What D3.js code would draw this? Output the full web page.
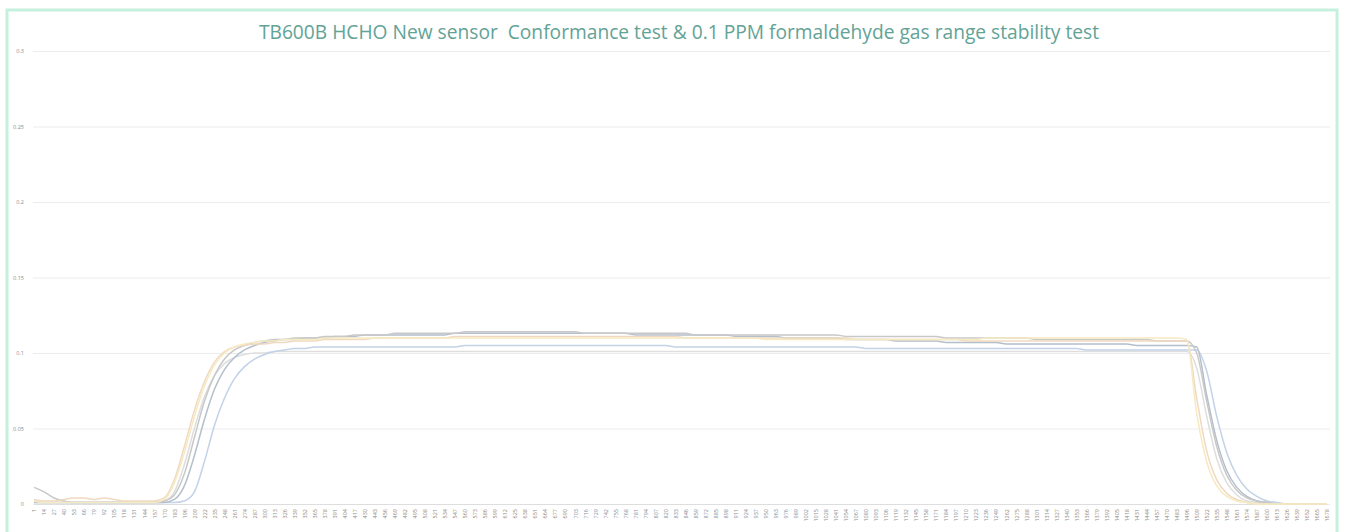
<!DOCTYPE html>
<html>
<head>
<meta charset="utf-8">
<script src="https://cdn.jsdelivr.net/npm/d3@7"></script>
<style>
	body { margin: 0; background: #fff; }
	svg { display: block; }
</style>
</head>
<body>
<div id="chart"></div>
<script>
let width = 1345;
let height = 532;
let margins = { top: 51, right: 18, bottom: 28, left: 34 };

// sample numbers shown on the x axis
var sampleLabels = [1,14,27,40,53,66,79,92,105,118,131,144,157,170,183,196,209,222,235,248,261,274,287,300,313,326,339,352,365,378,391,404,417,430,443,456,469,482,495,508,521,534,547,560,573,586,599,612,625,638,651,664,677,690,703,716,729,742,755,768,781,794,807,820,833,846,859,872,885,898,911,924,937,950,963,976,989,1002,1015,1028,1041,1054,1067,1080,1093,1106,1119,1132,1145,1158,1171,1184,1197,1210,1223,1236,1249,1262,1275,1288,1301,1314,1327,1340,1353,1366,1379,1392,1405,1418,1431,1444,1457,1470,1483,1496,1509,1522,1535,1548,1561,1574,1587,1600,1613,1626,1639,1652,1665,1678];

var yTicks = [0, 0.05, 0.1, 0.15, 0.2, 0.25, 0.3];

// sensor readings (ppm), one value per labelled sample
var sensor1 = [
	0.002,0.001,0.001,0.001,0.001,0.001,0.001,0.001,0.001,0.001,
	0.001,0.001,0.001,0.003,0.014,0.034,0.058,0.078,0.092,0.100,
	0.104,0.106,0.107,0.108,0.108,0.109,0.109,0.109,0.109,0.110,
	0.110,0.110,0.110,0.110,0.110,0.110,0.110,0.110,0.110,0.110,
	0.110,0.110,0.110,0.110,0.110,0.110,0.110,0.110,0.110,0.110,
	0.110,0.110,0.110,0.110,0.110,0.110,0.110,0.110,0.110,0.110,
	0.110,0.110,0.110,0.110,0.110,0.110,0.110,0.110,0.110,0.110,
	0.110,0.110,0.110,0.109,0.109,0.109,0.109,0.109,0.109,0.109,
	0.109,0.109,0.109,0.109,0.109,0.109,0.109,0.109,0.109,0.109,
	0.109,0.109,0.109,0.109,0.109,0.110,0.110,0.110,0.110,0.110,
	0.110,0.110,0.110,0.110,0.110,0.110,0.110,0.110,0.110,0.110,
	0.110,0.110,0.110,0.110,0.110,0.109,0.060,0.028,0.012,0.005,
	0.002,0.001,0,0,0,0,0,0,0,0
];
var sensor2 = [
	0.003,0.002,0.002,0.003,0.004,0.004,0.003,0.004,0.003,0.002,
	0.002,0.002,0.002,0.004,0.016,0.038,0.062,0.081,0.094,0.101,
	0.104,0.105,0.106,0.106,0.107,0.107,0.108,0.108,0.108,0.109,
	0.109,0.109,0.109,0.109,0.110,0.110,0.110,0.110,0.110,0.110,
	0.110,0.110,0.111,0.111,0.111,0.111,0.111,0.111,0.111,0.111,
	0.111,0.111,0.111,0.111,0.111,0.111,0.111,0.111,0.111,0.111,
	0.111,0.111,0.111,0.111,0.111,0.110,0.110,0.110,0.110,0.110,
	0.110,0.110,0.110,0.110,0.110,0.110,0.110,0.110,0.110,0.110,
	0.110,0.110,0.109,0.109,0.109,0.109,0.109,0.109,0.109,0.109,
	0.109,0.109,0.109,0.108,0.108,0.108,0.108,0.108,0.108,0.108,
	0.108,0.108,0.108,0.108,0.108,0.108,0.108,0.108,0.108,0.108,
	0.108,0.108,0.108,0.108,0.108,0.108,0.070,0.035,0.016,0.007,
	0.003,0.001,0,0,0,0,0,0,0,0
];
var sensor3 = [
	0.011,0.008,0.004,0.002,0.001,0.001,0.001,0.001,0.001,0.001,
	0.001,0.001,0.001,0.002,0.006,0.020,0.044,0.068,0.085,0.096,
	0.102,0.105,0.107,0.108,0.109,0.109,0.110,0.110,0.110,0.111,
	0.111,0.111,0.112,0.112,0.112,0.112,0.113,0.113,0.113,0.113,
	0.113,0.113,0.113,0.114,0.114,0.114,0.114,0.114,0.114,0.114,
	0.114,0.114,0.114,0.114,0.114,0.113,0.113,0.113,0.113,0.113,
	0.113,0.113,0.113,0.113,0.113,0.113,0.112,0.112,0.112,0.112,
	0.112,0.112,0.112,0.112,0.112,0.112,0.112,0.112,0.112,0.112,
	0.112,0.111,0.111,0.111,0.111,0.111,0.111,0.111,0.111,0.111,
	0.111,0.110,0.110,0.110,0.110,0.110,0.110,0.110,0.110,0.110,
	0.109,0.109,0.109,0.109,0.109,0.109,0.109,0.109,0.109,0.109,
	0.109,0.109,0.108,0.108,0.108,0.108,0.100,0.068,0.038,0.019,
	0.009,0.004,0.002,0.001,0,0,0,0,0,0
];
var sensor4 = [
	0.002,0.001,0.001,0.001,0.001,0.001,0.001,0.001,0.001,0.001,
	0.001,0.001,0.001,0.001,0.001,0.002,0.008,0.028,0.052,0.070,
	0.083,0.091,0.096,0.099,0.101,0.102,0.103,0.103,0.104,0.104,
	0.104,0.104,0.104,0.104,0.104,0.104,0.104,0.104,0.104,0.104,
	0.104,0.104,0.104,0.105,0.105,0.105,0.105,0.105,0.105,0.105,
	0.105,0.105,0.105,0.105,0.105,0.105,0.105,0.105,0.105,0.105,
	0.105,0.105,0.105,0.105,0.104,0.104,0.104,0.104,0.104,0.104,
	0.104,0.104,0.104,0.104,0.104,0.104,0.104,0.104,0.104,0.104,
	0.104,0.104,0.104,0.103,0.103,0.103,0.103,0.103,0.103,0.103,
	0.103,0.103,0.103,0.103,0.103,0.103,0.103,0.103,0.103,0.103,
	0.103,0.103,0.103,0.103,0.103,0.102,0.102,0.102,0.102,0.102,
	0.102,0.102,0.102,0.102,0.102,0.102,0.102,0.088,0.058,0.034,
	0.019,0.010,0.005,0.002,0.001,0,0,0,0,0
];
var sensor5 = [
	0.001,0.001,0.001,0.001,0.001,0.001,0.001,0.001,0.001,0.001,
	0.001,0.001,0.001,0.001,0.003,0.012,0.032,0.056,0.076,0.089,
	0.097,0.102,0.105,0.107,0.108,0.109,0.109,0.110,0.110,0.110,
	0.111,0.111,0.111,0.112,0.112,0.112,0.112,0.112,0.112,0.112,
	0.112,0.112,0.113,0.113,0.113,0.113,0.113,0.113,0.113,0.113,
	0.113,0.113,0.113,0.113,0.113,0.113,0.113,0.113,0.113,0.113,
	0.112,0.112,0.112,0.112,0.112,0.112,0.112,0.112,0.112,0.112,
	0.111,0.111,0.111,0.111,0.111,0.110,0.110,0.110,0.110,0.110,
	0.110,0.109,0.109,0.109,0.109,0.109,0.108,0.108,0.108,0.108,
	0.108,0.107,0.107,0.107,0.107,0.107,0.107,0.106,0.106,0.106,
	0.106,0.106,0.106,0.106,0.106,0.106,0.106,0.106,0.106,0.106,
	0.105,0.105,0.105,0.105,0.105,0.105,0.104,0.072,0.042,0.022,
	0.011,0.005,0.002,0.001,0,0,0,0,0,0
];
var sensor6 = [
	0.001,0.001,0.001,0.001,0.001,0.001,0.001,0.001,0.001,0.001,
	0.001,0.001,0.001,0.002,0.008,0.026,0.050,0.071,0.085,0.093,
	0.097,0.099,0.100,0.100,0.101,0.101,0.101,0.101,0.101,0.101,
	0.101,0.101,0.101,0.101,0.101,0.101,0.101,0.101,0.101,0.101,
	0.101,0.101,0.101,0.101,0.101,0.101,0.101,0.101,0.101,0.101,
	0.101,0.101,0.101,0.101,0.101,0.101,0.101,0.101,0.101,0.101,
	0.101,0.101,0.101,0.101,0.101,0.101,0.101,0.101,0.101,0.101,
	0.101,0.101,0.101,0.101,0.101,0.101,0.101,0.101,0.101,0.101,
	0.101,0.101,0.101,0.101,0.101,0.101,0.101,0.101,0.101,0.101,
	0.101,0.101,0.101,0.101,0.101,0.101,0.101,0.101,0.101,0.101,
	0.101,0.101,0.101,0.101,0.101,0.101,0.101,0.101,0.101,0.101,
	0.101,0.101,0.101,0.101,0.101,0.101,0.090,0.058,0.030,0.014,
	0.006,0.002,0.001,0,0,0,0,0,0,0
];

var seriesList = [
	{ name: "sensor 6", values: sensor6, color: "#dedede" },
	{ name: "sensor 4", values: sensor4, color: "#c2d2e8" },
	{ name: "sensor 5", values: sensor5, color: "#b3bfcc" },
	{ name: "sensor 3", values: sensor3, color: "#c8c8c8" },
	{ name: "sensor 2", values: sensor2, color: "#f0d9c0" },
	{ name: "sensor 1", values: sensor1, color: "#f6eac2" },
];

var svg = d3
	.select("#chart")
	.append("svg")
	.attr("width", width)
	.attr("height", height);

// mint frame round the chart area
svg
	.append("rect")
	.attr("x", 7)
	.attr("y", 10)
	.attr("width", 1330)
	.attr("height", 530)
	.attr("fill", "#fff")
	.attr("stroke", "#c6f0de")
	.attr("stroke-width", 3);

svg
	.append("text")
	.attr("x", 679)
	.attr("y", 39)
	.attr("text-anchor", "middle")
	.attr("font-family", "'Open Sans', sans-serif")
	.attr("font-size", 19.2)
	.attr("fill", "#62a396")
	.text("TB600B HCHO New sensor  Conformance test & 0.1 PPM formaldehyde gas range stability test")
	.style("white-space", "pre");

var x = d3
	.scalePoint()
	.domain(sampleLabels)
	.range([margins.left, width - margins.right]);

var y = d3
	.scaleLinear()
	.domain([0, 0.3])
	.range([height - margins.bottom, margins.top]);

// horizontal gridlines + y labels
var yAxis = svg
	.append("g")
	.attr("transform", "translate(" + (margins.left - 1) + ",0)")
	.call(
		d3
			.axisLeft(y)
			.tickValues(yTicks)
			.tickSize(-(width - margins.right - margins.left + 4))
			.tickPadding(9)
			.tickFormat(function (d) {
				return d === 0 ? "0" : String(+d.toFixed(2));
			})
	);
yAxis.select(".domain").remove();
yAxis.selectAll(".tick line").attr("stroke", "#ececec").attr("stroke-width", 1);
yAxis
	.selectAll(".tick text")
	.attr("fill", "#8c8c8c")
	.attr("font-size", 5.5)
	.attr("font-family", "'Open Sans', sans-serif");

// x axis with rotated sample labels
var xAxis = svg
	.append("g")
	.attr("transform", "translate(0," + (height - margins.bottom) + ")")
	.call(d3.axisBottom(x).tickSize(0).tickPadding(0));
xAxis.select(".domain").attr("stroke", "#dedede");
xAxis
	.selectAll(".tick text")
	.attr("fill", "#8a8a8a")
	.attr("font-size", 5.5)
	.attr("font-family", "'Open Sans', sans-serif")
	.attr("text-anchor", "end")
	.attr("dy", "0.32em")
	.attr("transform", "translate(0,5) rotate(-90)");

var line = d3
	.line()
	.x(function (d, i) {
		return x(sampleLabels[i]);
	})
	.y(function (d) {
		return y(d);
	})
	.curve(d3.curveMonotoneX);

svg
	.append("g")
	.selectAll("path")
	.data(seriesList)
	.enter()
	.append("path")
	.attr("d", function (d) {
		return line(d.values);
	})
	.attr("fill", "none")
	.attr("stroke", function (d) {
		return d.color;
	})
	.attr("stroke-width", 1.5);
</script>
</body>
</html>
